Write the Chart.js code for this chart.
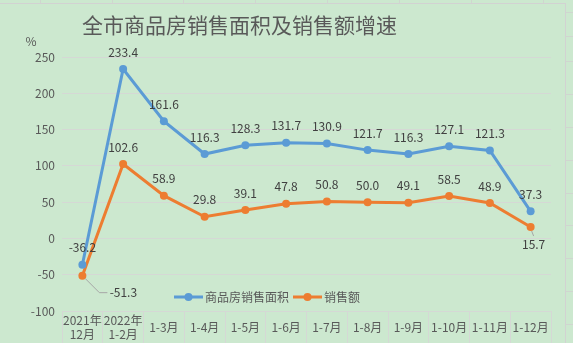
<!DOCTYPE html>
<html>
<head>
<meta charset="utf-8">
<script src="https://cdn.jsdelivr.net/npm/chart.js@4.4.1/dist/chart.umd.min.js"></script>
<style>
  html, body { margin: 0; padding: 0; background: #cce8cf; }
  #salesChart { display: block; }
</style>
</head>
<body>
<canvas id="salesChart" width="573" height="343"></canvas>
<script>
const months = [['2021年', '12月'], ['2022年', '1-2月'], '1-3月', '1-4月', '1-5月', '1-6月', '1-7月', '1-8月', '1-9月', '1-10月', '1-11月', '1-12月'];
const areaGrowth = [-36.2, 233.4, 161.6, 116.3, 128.3, 131.7, 130.9, 121.7, 116.3, 127.1, 121.3, 37.3];
const amountGrowth = [-51.3, 102.6, 58.9, 29.8, 39.1, 47.8, 50.8, 50.0, 49.1, 58.5, 48.9, 15.7];
const yTicks = [-100, -50, 0, 50, 100, 150, 200, 250];

const FONT = '"Noto Sans CJK SC", "Microsoft YaHei", sans-serif';
const BLUE = '#5b9bd5';
const ORANGE = '#ed7d31';
const GRID = '#d5d8d5';
const TEXT = '#595959';

// labels that sit away from their point, with a grey leader line
const callouts = {
  1: { 0: [41, 17], 11: [3, 17] }
};

const sheetBackground = {
  id: 'sheetBackground',
  beforeDraw(chart) {
    const { ctx, width, height } = chart;
    ctx.save();
    ctx.fillStyle = '#cce8cf';
    ctx.fillRect(0, 0, width, height);
    ctx.strokeStyle = '#cfd6cf';
    ctx.lineWidth = 1;
    ctx.beginPath();
    [40, 112, 183, 255, 327, 399, 471, 543].forEach(x => {
      ctx.moveTo(x + 0.5, 0);
      ctx.lineTo(x + 0.5, 3);
    });
    [12, 36, 61, 94, 127, 160, 193, 225, 258, 291, 324].forEach(y => {
      ctx.moveTo(566, y + 0.5);
      ctx.lineTo(width, y + 0.5);
    });
    ctx.stroke();
    ctx.strokeStyle = '#d2d2d2';
    ctx.strokeRect(-1, 3.5, 566.5, height + 2);
    ctx.restore();
  }
};

const annotations = {
  id: 'annotations',
  afterDatasetsDraw(chart) {
    const { ctx } = chart;
    ctx.save();

    // title and unit
    ctx.fillStyle = TEXT;
    ctx.textBaseline = 'middle';
    ctx.textAlign = 'left';
    ctx.font = '21px ' + FONT;
    ctx.fillText('全市商品房销售面积及销售额增速', 82, 25);
    ctx.font = '12px ' + FONT;
    ctx.textAlign = 'center';
    ctx.fillText('%', 31, 41);

    // value labels
    ctx.fillStyle = '#404040';
    chart.data.datasets.forEach((ds, di) => {
      const meta = chart.getDatasetMeta(di);
      meta.data.forEach((pt, i) => {
        const text = ds.data[i].toFixed(1);
        const off = callouts[di] && callouts[di][i];
        if (off) {
          const lx = pt.x + off[0];
          const ly = pt.y + off[1];
          ctx.strokeStyle = '#a6a6a6';
          ctx.lineWidth = 1;
          ctx.beginPath();
          if (off[0] > 10) {
            ctx.moveTo(pt.x + 3, pt.y + 3);
            ctx.lineTo(lx - 24, ly);
            ctx.lineTo(lx - 16, ly);
          } else {
            ctx.moveTo(pt.x + 1, pt.y + 4);
            ctx.lineTo(pt.x + 3, pt.y + 9);
          }
          ctx.stroke();
          ctx.fillText(text, lx, ly);
        } else {
          ctx.fillText(text, pt.x, pt.y - 17);
        }
      });
    });

    // legend inside the plot
    let x = 174;
    const y = 297;
    ctx.textAlign = 'left';
    chart.data.datasets.forEach(ds => {
      ctx.strokeStyle = ds.borderColor;
      ctx.lineWidth = 3;
      ctx.beginPath();
      ctx.moveTo(x, y);
      ctx.lineTo(x + 29, y);
      ctx.stroke();
      ctx.fillStyle = ds.borderColor;
      ctx.beginPath();
      ctx.arc(x + 14.5, y, 4, 0, Math.PI * 2);
      ctx.fill();
      ctx.fillStyle = TEXT;
      ctx.fillText(ds.label, x + 31, y);
      x += 31 + ctx.measureText(ds.label).width + 4;
    });

    ctx.restore();
  }
};

new Chart(document.getElementById('salesChart'), {
  type: 'line',
  data: {
    labels: months,
    datasets: [{
      label: '商品房销售面积',
      data: areaGrowth,
      borderColor: BLUE,
      backgroundColor: BLUE,
      borderWidth: 3,
      pointRadius: 4,
      pointHoverRadius: 4,
      pointBorderWidth: 0
    }, {
      label: '销售额',
      data: amountGrowth,
      borderColor: ORANGE,
      backgroundColor: ORANGE,
      borderWidth: 3,
      pointRadius: 4,
      pointHoverRadius: 4,
      pointBorderWidth: 0
    }]
  },
  options: {
    responsive: false,
    animation: false,
    layout: { padding: { left: 0, right: 22, top: 57, bottom: 0 } },
    plugins: {
      legend: { display: false },
      tooltip: { enabled: false }
    },
    scales: {
      x: {
        offset: true,
        border: { display: false },
        grid: { drawOnChartArea: false, offset: true, tickLength: 32, color: GRID },
        ticks: {
          color: TEXT,
          font: { family: FONT, size: 12 },
          padding: -23,
          crossAlign: 'center',
          maxRotation: 0,
          autoSkip: false
        },
        afterFit(scale) { scale.height = 32; }
      },
      y: {
        min: yTicks[0],
        max: yTicks[yTicks.length - 1],
        border: { display: false },
        grid: { color: GRID, drawTicks: false },
        ticks: {
          stepSize: 50,
          color: TEXT,
          font: { family: FONT, size: 12 },
          padding: 7
        },
        afterFit(scale) { scale.width = 62; }
      }
    }
  },
  plugins: [sheetBackground, annotations]
});
</script>
</body>
</html>
